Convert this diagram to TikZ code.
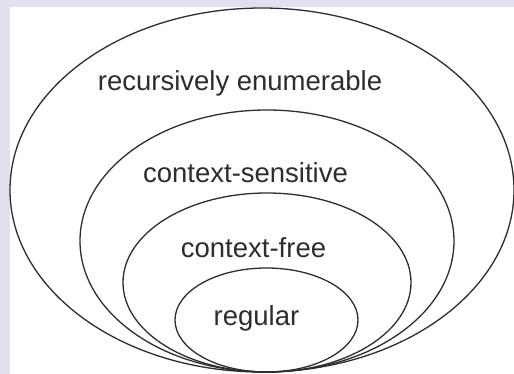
\documentclass[tikz,border=0pt]{standalone}
\usepackage{fontspec}
\setmainfont{Liberation Sans}
\usetikzlibrary{positioning}
\definecolor{lavender}{RGB}{225,223,240}
\definecolor{rim}{RGB}{45,45,45}

\begin{document}
\begin{tikzpicture}[x=1pt,y=-1pt,
        set/.style={draw=rim,line width=1.3pt},
        lbl/.style={anchor=base,text=rim,inner sep=0pt,font=\fontsize{27.5}{33}\selectfont}]
        \fill[lavender] (0,0) rectangle (514,374);
        \fill[white] (10,7) rectangle (514,374);
        \useasboundingbox (0,0) rectangle (514,374);
        % nested classes, all touching at the bottom
        \draw[set] (262,190) ellipse (252 and 182);
        \draw[set] (267,241) ellipse (187 and 131);
        \draw[set] (267,282.5) ellipse (144 and 89.5);
        \draw[set] (266.5,320) ellipse (91.5 and 52);
        \node[lbl] (re) at (240,91) {recursively enumerable};
        \node[lbl] (cs) at (245.5,183) {context-sensitive};
        \node[lbl] (cf) at (253.5,257) {context-free};
        \node[lbl] (reg) at (256.5,325) {regular};
    \end{tikzpicture}
\end{document}
